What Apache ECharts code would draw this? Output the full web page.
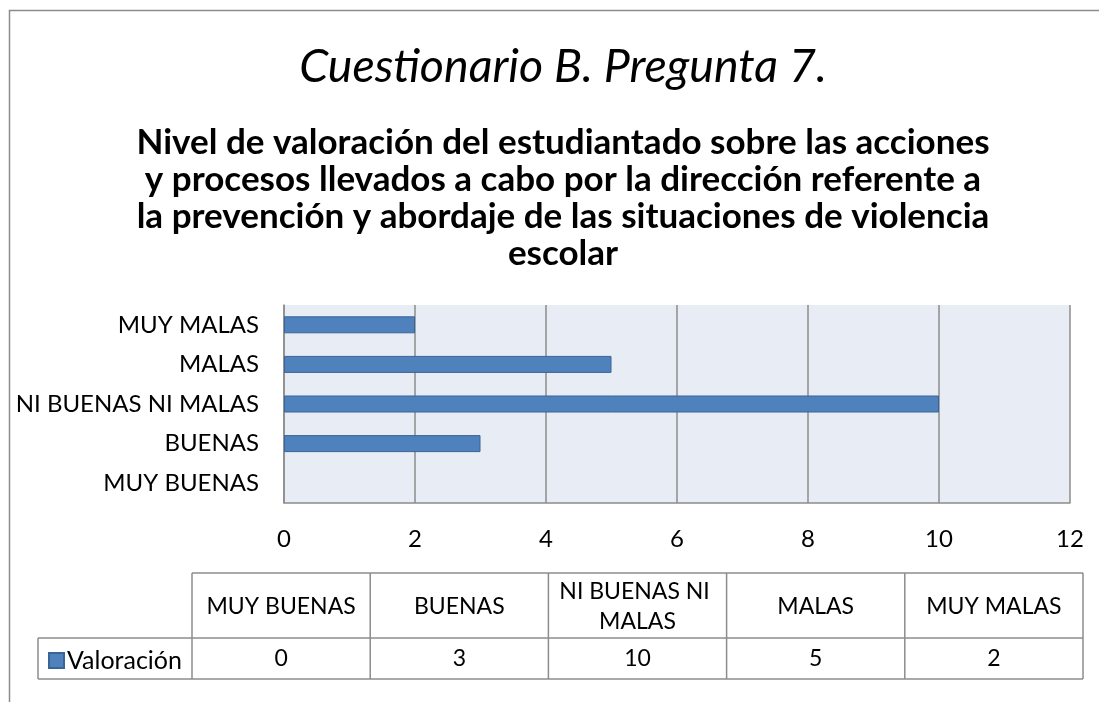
<!DOCTYPE html>
<html>
<head>
<meta charset="utf-8">
<script src="https://cdn.jsdelivr.net/npm/echarts@6/dist/echarts.min.js"></script>
<style>
  html, body { margin: 0; padding: 0; background: #ffffff; }
  #chart { width: 1099px; height: 702px; }
</style>
</head>
<body>
<div id="chart"></div>
<script>
// Survey answers, bottom-to-top order on the category axis
const categories = ['MUY BUENAS', 'BUENAS', 'NI BUENAS NI MALAS', 'MALAS', 'MUY MALAS'];
const valores = [0, 3, 10, 5, 2];
const seriesName = 'Valoración';
const xTicks = { min: 0, max: 12, interval: 2 };

const titleText = 'Cuestionario B. Pregunta 7.';
const subtitleLines = [
  'Nivel de valoración del estudiantado sobre las acciones',
  'y procesos llevados a cabo por la dirección referente a',
  'la prevención y abordaje de las situaciones de violencia',
  'escolar'
];

const FONT = 'Lato, "Open Sans", sans-serif';
const LINE = '#8c8c8c';

// Data table below the plot
const table = { x0: 192, colW: 178.2, top: 573, mid: 638, bottom: 679, legendX: 38 };
const graphics = [];

// outer frame (only the top and left edges fall inside the canvas)
graphics.push({
  type: 'rect', shape: { x: 9.5, y: 10.5, width: 1200, height: 800 },
  style: { fill: 'none', stroke: LINE, lineWidth: 1.5 }, silent: true
});

// titles
graphics.push({
  type: 'text', x: 563, y: 67,
  style: { text: titleText, font: 'italic 46.5px ' + FONT, fill: '#000', align: 'center', verticalAlign: 'middle' }
});
graphics.push({
  type: 'text', x: 563, y: 198,
  style: {
    text: subtitleLines.join('\n'), font: 'bold 35px ' + FONT, fill: '#000',
    align: 'center', verticalAlign: 'middle', lineHeight: 37
  }
});

// table grid lines
const nCols = categories.length;
const xEnd = table.x0 + table.colW * nCols;
function hline(x1, x2, y) {
  graphics.push({ type: 'line', shape: { x1, y1: y, x2, y2: y }, style: { stroke: LINE, lineWidth: 1.5 }, silent: true });
}
function vline(x, y1, y2) {
  graphics.push({ type: 'line', shape: { x1: x, y1, x2: x, y2 }, style: { stroke: LINE, lineWidth: 1.5 }, silent: true });
}
hline(table.x0, xEnd, table.top);
hline(table.legendX, xEnd, table.mid);
hline(table.legendX, xEnd, table.bottom);
vline(table.legendX, table.mid, table.bottom);
for (let i = 0; i <= nCols; i++) {
  vline(table.x0 + table.colW * i, table.top, table.bottom);
}
categories.forEach((c, i) => {
  const cx = table.x0 + table.colW * (i + 0.5);
  graphics.push({
    type: 'text', x: cx, y: (table.top + table.mid) / 2 + 1,
    style: {
      text: c, font: '23px ' + FONT, fill: '#000', align: 'center', verticalAlign: 'middle',
      width: 165, overflow: 'break', lineHeight: 30
    }
  });
  graphics.push({
    type: 'text', x: cx, y: (table.mid + table.bottom) / 2,
    style: { text: String(valores[i]), font: '23px ' + FONT, fill: '#000', align: 'center', verticalAlign: 'middle' }
  });
});

const chart = echarts.init(document.getElementById('chart'));
chart.setOption({
  backgroundColor: '#ffffff',
  animation: false,
  textStyle: { fontFamily: FONT },
  legend: {
    data: [seriesName],
    left: 43, top: 643,
    itemWidth: 15, itemHeight: 15, itemGap: 6,
    icon: 'rect',
    textStyle: { fontSize: 25, color: '#000', fontFamily: FONT, padding: [0, 0, 0, -2] }
  },
  grid: {
    left: 284, right: 29, top: 305, bottom: 199,
    show: true, backgroundColor: '#e8ecf4', borderWidth: 0
  },
  xAxis: {
    type: 'value',
    min: xTicks.min, max: xTicks.max, interval: xTicks.interval,
    axisLine: { show: true, lineStyle: { color: LINE, width: 1.5 } },
    axisTick: { show: false },
    axisLabel: { fontSize: 24, color: '#000', margin: 24, fontFamily: FONT },
    splitLine: { show: true, lineStyle: { color: LINE, width: 1.5 } }
  },
  yAxis: {
    type: 'category',
    data: categories,
    axisLine: { show: true, lineStyle: { color: LINE, width: 1.5 } },
    axisTick: { show: false },
    axisLabel: { fontSize: 24, color: '#000', margin: 25, fontFamily: FONT },
    splitLine: { show: false }
  },
  series: [{
    name: seriesName,
    type: 'bar',
    // a zero-length bar has no outline
    data: valores.map(v => ({ value: v, itemStyle: { borderWidth: v === 0 ? 0 : 1 } })),
    barWidth: 17,
    itemStyle: { color: '#4f81bd', borderColor: '#3b6496', borderWidth: 1 }
  }],
  graphic: graphics
});
</script>
</body>
</html>
